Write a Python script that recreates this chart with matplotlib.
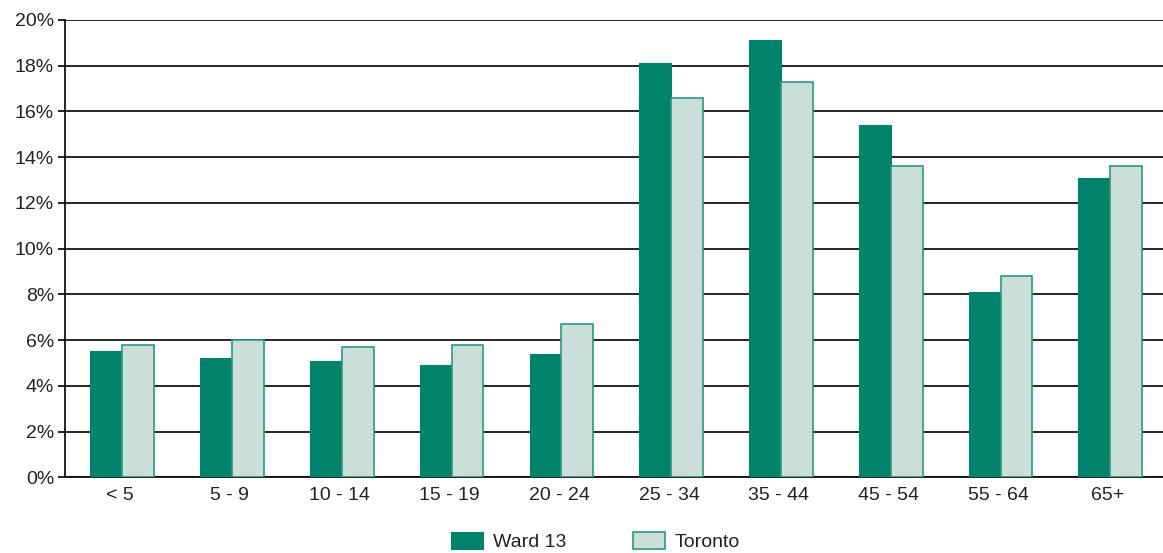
import matplotlib.pyplot as plt
import numpy as np
from matplotlib.ticker import FuncFormatter

plt.rcParams['font.family'] = ['Liberation Sans', 'DejaVu Sans']

age_groups = ['< 5', '5 - 9', '10 - 14', '15 - 19', '20 - 24',
              '25 - 34', '35 - 44', '45 - 54', '55 - 64', '65+']
ward13 = [5.5, 5.2, 5.1, 4.9, 5.4, 18.1, 19.1, 15.4, 8.1, 13.1]
toronto = [5.8, 6.0, 5.7, 5.8, 6.7, 16.6, 17.3, 13.6, 8.8, 13.6]

fig = plt.figure(figsize=(11.63, 5.53), dpi=100)
ax = fig.add_axes([0.056, 0.137, 0.944, 0.827])

x = np.arange(len(age_groups))
w = 0.29
ax.bar(x - w / 2 + 0.02, ward13, w, color='#00826B', edgecolor='#00826B',
       linewidth=0.8, label='Ward 13', zorder=3)
ax.bar(x + w / 2 + 0.02, toronto, w, color='#C9DFD8', edgecolor='#2A9A80',
       linewidth=1.2, label='Toronto', zorder=3)

ax.set_xlim(-0.5, len(age_groups) - 0.5)
ax.set_ylim(0, 20)
ax.set_yticks(np.arange(0, 21, 2))
ax.yaxis.set_major_formatter(FuncFormatter(lambda v, p: '%d%%' % v))
ax.yaxis.grid(True, color='black', linewidth=1.2, zorder=0)
ax.set_xticks(x)
ax.set_xticklabels(age_groups)
ax.tick_params(axis='x', length=0, labelsize=14, pad=7, labelcolor='#222222')
ax.tick_params(axis='y', length=5, width=1.2, labelsize=14, pad=3,
               labelcolor='#222222')

for s in ['top', 'right']:
    ax.spines[s].set_visible(False)
ax.spines['left'].set_linewidth(1.2)
ax.spines['bottom'].set_linewidth(1.2)

leg = fig.legend(loc='lower center', bbox_to_anchor=(0.512, -0.028), ncol=2,
                 frameon=False, fontsize=14, handlelength=1.65,
                 handleheight=1.0, handletextpad=0.5, columnspacing=3.4)
for t in leg.get_texts():
    t.set_color('#222222')

plt.savefig('out.png', dpi=100)
